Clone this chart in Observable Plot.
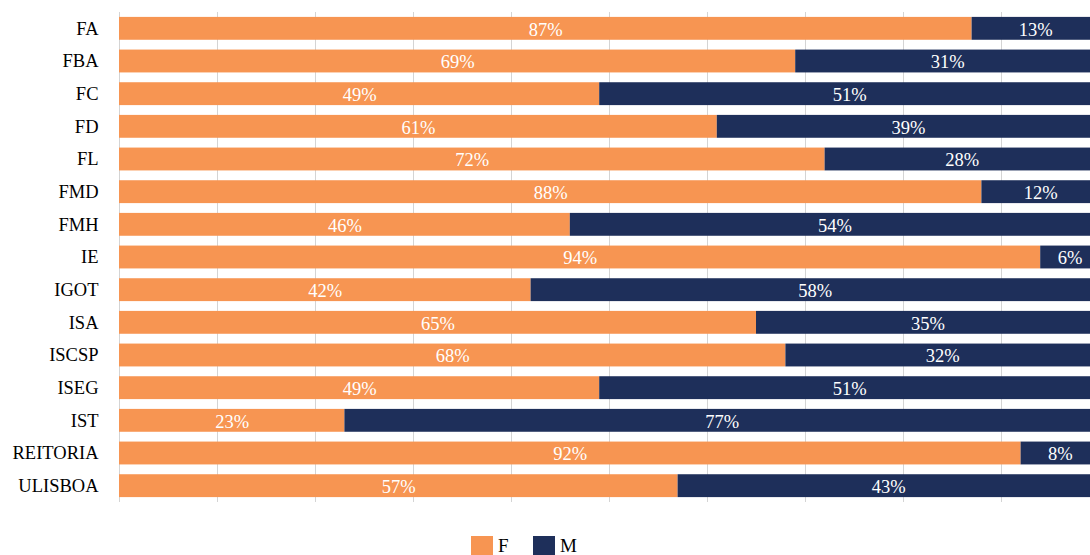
<!DOCTYPE html>
<html>
<head>
<meta charset="utf-8">
<script src="https://cdn.jsdelivr.net/npm/d3@7"></script>
<script src="https://cdn.jsdelivr.net/npm/@observablehq/plot@0.6"></script>
<style>
  html, body { margin: 0; padding: 0; background: #fff; overflow: hidden; }
  #chart svg { overflow: hidden; display: block; }
  #chart svg, #chart svg text { font-family: "Liberation Serif", serif !important; }
  .legend { position: absolute; top: 536px; left: 0; width: 1090px; height: 19px;
    font-family: "Liberation Serif", serif; font-size: 19px; color: #000; }
  .legend .sw { position: absolute; top: 0; width: 22px; height: 22px; }
  .legend .lb { position: absolute; top: 0; line-height: 19px; }
</style>
</head>
<body>
<div id="chart"></div>
<div class="legend">
  <div class="sw" style="left:471px;background:#F79552"></div><div class="lb" style="left:498px">F</div>
  <div class="sw" style="left:533px;background:#1E2F5A"></div><div class="lb" style="left:560px">M</div>
</div>
<script>
const categories = ["FA","FBA","FC","FD","FL","FMD","FMH","IE","IGOT","ISA","ISCSP","ISEG","IST","REITORIA","ULISBOA"];
const fValues = [87,69,49,61,72,88,46,94,42,65,68,49,23,92,57];
const mValues = [13,31,51,39,28,12,54,6,58,35,32,51,77,8,43];
const series = ["F","M"];
const colors = ["#F79552","#1E2F5A"];
const gridTicks = [0,10,20,30,40,50,60,70,80,90,100];
const serif = "Liberation Serif";

const tidy = [];
categories.forEach((c, i) => {
  tidy.push({cat: c, sex: "F", value: fValues[i]});
  tidy.push({cat: c, sex: "M", value: mValues[i]});
});

const chart = Plot.plot({
  width: 1090,
  height: 520,
  marginLeft: 119,
  marginTop: 12,
  marginBottom: 18,
  marginRight: 0,
  style: {background: "white", overflow: "hidden", fontFamily: serif},
  x: {domain: [0, 100], range: [119, 1099], axis: null},
  y: {domain: categories, padding: 0.3, round: false, range: [7.1, 506.9], label: null},
  color: {domain: series, range: colors},
  marks: [
    Plot.ruleX(gridTicks, {stroke: "#d4d4d4", strokeWidth: 1}),
    Plot.barX(tidy, {x: "value", y: "cat", fill: "sex", order: series}),
    Plot.text(tidy, Plot.stackX({x: "value", y: "cat", z: "sex", order: series,
      text: d => d.value + "%", fill: "white", fontSize: 18.5, fontFamily: serif, dy: 1})),
    Plot.axisY({tickSize: 0, tickPadding: 21, fontSize: 18.5, fontFamily: serif, fill: "black", label: null})
  ]
});
chart.setAttribute("font-family", serif);
document.getElementById("chart").appendChild(chart);
</script>
</body>
</html>
